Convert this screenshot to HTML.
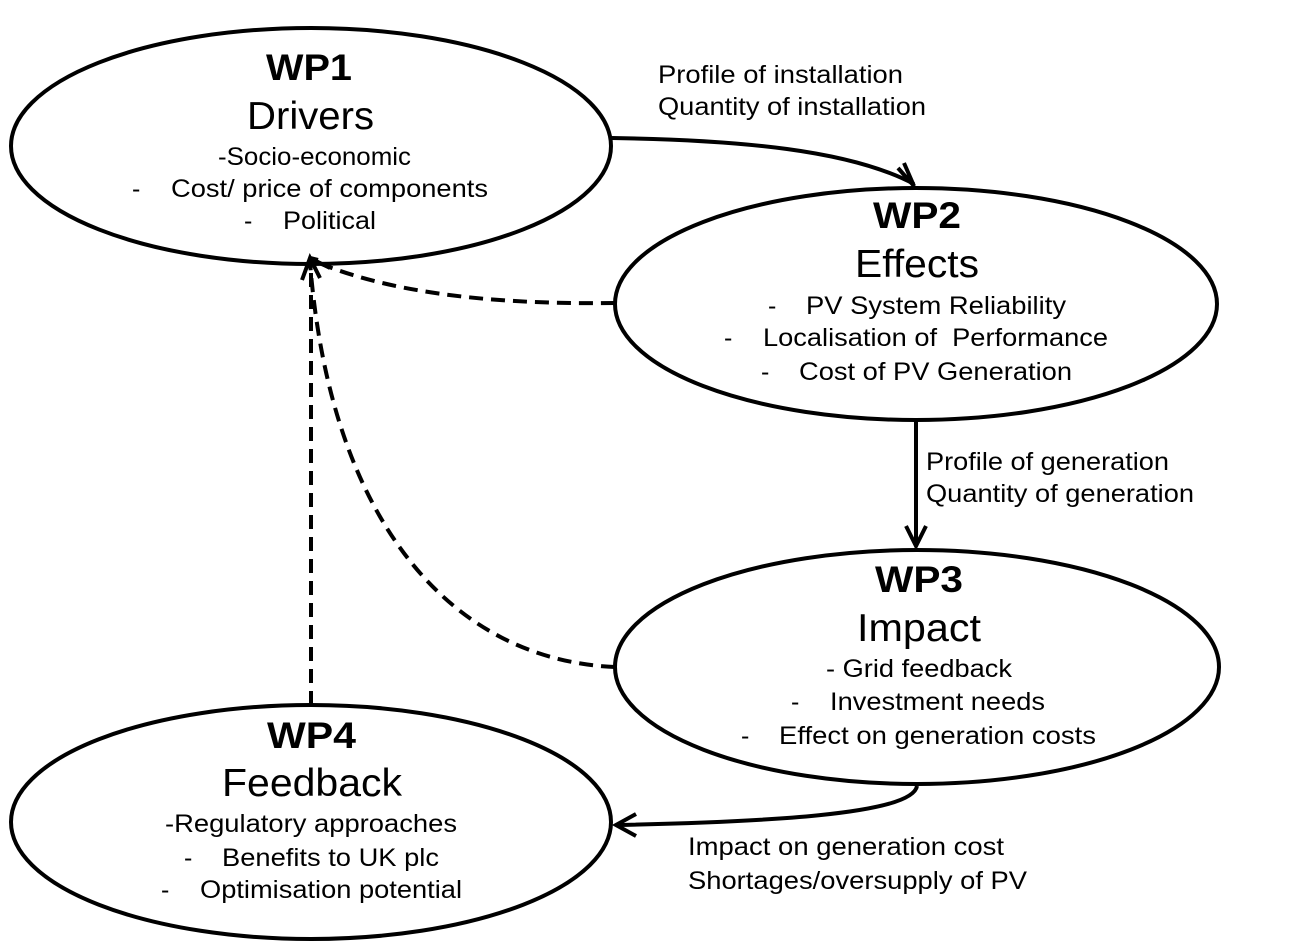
<!DOCTYPE html>
<html><head><meta charset="utf-8"><style>
html,body{margin:0;padding:0;background:#fff;}
svg{display:block;}
text{font-family:"Liberation Sans",Arial,sans-serif;fill:#000;}
.h{font-weight:bold;font-size:37px;}
.t{font-size:39px;}
.b{font-size:25px;}
</style></head><body>
<svg width="1294" height="942" viewBox="0 0 1294 942" xmlns="http://www.w3.org/2000/svg">
<g fill="none" stroke="#000" stroke-width="4">
<ellipse cx="311" cy="146" rx="300" ry="118"/>
<ellipse cx="916" cy="304" rx="301" ry="116"/>
<ellipse cx="917" cy="667" rx="302" ry="117"/>
<ellipse cx="311" cy="822" rx="300" ry="117"/>
<path d="M612 138 C 740 140, 850 150, 914 184"/>
<path d="M898 168 L914 186 L904 163"/>
<path d="M916 420 L916 546"/>
<path d="M906 526 L916 546 L926 526"/>
<path d="M917 786 C 912 815, 760 822, 617 825"/>
<path d="M636 814 L616 825 L636 836"/>
<g stroke-dasharray="14 8">
<path d="M615 303 C 480 305, 380 290, 312 260"/>
<path d="M615 667 C 450 660, 330 520, 310 262"/>
<path d="M311 705 L311 262"/>
</g>
<path d="M302 280 L310 258 L320 278"/>
<path d="M318 260 L310 258 L330 268"/>
</g>
<g lengthAdjust="spacingAndGlyphs">
<text class="h" x="266" y="80" textLength="86" lengthAdjust="spacingAndGlyphs">WP1</text>
<text class="t" x="247" y="129" textLength="127" lengthAdjust="spacingAndGlyphs">Drivers</text>
<text class="b" x="218" y="165" textLength="193" lengthAdjust="spacingAndGlyphs">-Socio-economic</text>
<text class="h" x="873" y="228" textLength="88" lengthAdjust="spacingAndGlyphs">WP2</text>
<text class="t" x="855" y="277" textLength="124" lengthAdjust="spacingAndGlyphs">Effects</text>
<text class="h" x="875" y="592" textLength="88" lengthAdjust="spacingAndGlyphs">WP3</text>
<text class="t" x="857" y="641" textLength="124" lengthAdjust="spacingAndGlyphs">Impact</text>
<text class="b" x="826" y="677" textLength="186" lengthAdjust="spacingAndGlyphs">- Grid feedback</text>
<text class="h" x="267" y="748" textLength="89" lengthAdjust="spacingAndGlyphs">WP4</text>
<text class="t" x="222" y="796" textLength="180" lengthAdjust="spacingAndGlyphs">Feedback</text>
<text class="b" x="165" y="832" textLength="292" lengthAdjust="spacingAndGlyphs">-Regulatory approaches</text>

<text class="b" x="132" y="197">-</text><text class="b" x="171" y="197" textLength="317" lengthAdjust="spacingAndGlyphs">Cost/ price of components</text>
<text class="b" x="244" y="229">-</text><text class="b" x="283" y="229" textLength="93" lengthAdjust="spacingAndGlyphs">Political</text>
<text class="b" x="768" y="314">-</text><text class="b" x="806" y="314" textLength="260" lengthAdjust="spacingAndGlyphs">PV System Reliability</text>
<text class="b" x="724" y="346">-</text><text class="b" x="763" y="346" textLength="345" lengthAdjust="spacingAndGlyphs">Localisation of&#160; Performance</text>
<text class="b" x="761" y="380">-</text><text class="b" x="799" y="380" textLength="273" lengthAdjust="spacingAndGlyphs">Cost of PV Generation</text>
<text class="b" x="791" y="710">-</text><text class="b" x="830" y="710" textLength="215" lengthAdjust="spacingAndGlyphs">Investment needs</text>
<text class="b" x="741" y="744">-</text><text class="b" x="779" y="744" textLength="317" lengthAdjust="spacingAndGlyphs">Effect on generation costs</text>
<text class="b" x="184" y="866">-</text><text class="b" x="222" y="866" textLength="217" lengthAdjust="spacingAndGlyphs">Benefits to UK plc</text>
<text class="b" x="161" y="898">-</text><text class="b" x="200" y="898" textLength="262" lengthAdjust="spacingAndGlyphs">Optimisation potential</text>
<text class="b" x="658" y="83" textLength="245" lengthAdjust="spacingAndGlyphs">Profile of installation</text>
<text class="b" x="658" y="115" textLength="268" lengthAdjust="spacingAndGlyphs">Quantity of installation</text>
<text class="b" x="926" y="470" textLength="243" lengthAdjust="spacingAndGlyphs">Profile of generation</text>
<text class="b" x="926" y="502" textLength="268" lengthAdjust="spacingAndGlyphs">Quantity of generation</text>
<text class="b" x="688" y="855" textLength="316" lengthAdjust="spacingAndGlyphs">Impact on generation cost</text>
<text class="b" x="688" y="889" textLength="339" lengthAdjust="spacingAndGlyphs">Shortages/oversupply of PV</text>
</g>
</svg>
</body></html>
